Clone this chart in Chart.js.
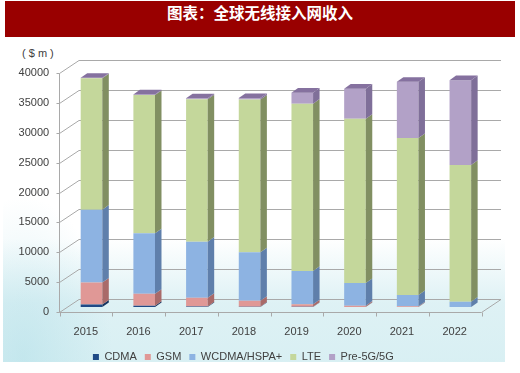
<!DOCTYPE html>
<html>
<head>
<meta charset="utf-8">
<script src="https://cdn.jsdelivr.net/npm/chart.js@4.4.1/dist/chart.umd.min.js"></script>
<style>
html, body { margin: 0; padding: 0; background: #fff; }
#wrap { position: relative; width: 520px; height: 373px; overflow: hidden; }
#bg {
    position: absolute; left: 3px; top: 37px; width: 502px; height: 325px;
    background:
        radial-gradient(ellipse 90px 160px at 20px 320px, rgba(170,220,230,0.45), rgba(255,255,255,0)),
        linear-gradient(to bottom, rgba(255,255,255,0) 62%, rgba(195,230,236,0.55) 82%, rgba(200,233,238,0.7) 100%);
}
#title {
    position: absolute; left: 5px; top: 1px; width: 510px; height: 36px;
    background: #990000; color: #fff; text-align: center; line-height: 36px;
    font: bold 15.5px "Noto Sans CJK SC", sans-serif;
}
#unit {
    position: absolute; left: 22px; top: 47px; color: #404040;
    font: 11px "Liberation Sans", Arial, sans-serif; white-space: pre;
}
canvas { position: absolute; left: 0; top: 0; }
</style>
</head>
<body>
<div id="wrap">
    <div id="bg"></div>
    <div id="title">图表：全球无线接入网收入</div>
    <div id="unit">( $ m )</div>
    <canvas id="chart" width="520" height="373"></canvas>
</div>
<script>
'use strict'

// data, $ m
const years = ['2015', '2016', '2017', '2018', '2019', '2020', '2021', '2022']
const cdma  = [400, 200, 100, 50, 30, 20, 10, 0]
const gsm   = [3700, 2000, 1450, 1000, 420, 200, 100, 0]
const wcdma = [12200, 10150, 9400, 8100, 5600, 3800, 1900, 900]
const lte   = [22000, 23150, 23850, 25600, 28000, 27500, 26300, 22900]
const pre5g = [100, 100, 150, 250, 1850, 5050, 9400, 14200]

const seriesNames = ['CDMA', 'GSM', 'WCDMA/HSPA+', 'LTE', 'Pre-5G/5G']
const yMax = 40000
const yStep = 5000

// colours: front, side, top
const frontColors = ['#1f4a86', '#e09896', '#8db3e2', '#c4d79b', '#b2a1c7']
const sideColors  = ['#16335e', '#a96a69', '#5f7fab', '#818f62', '#7f6f99']
const topColors   = ['#2a5aa0', '#c07d7c', '#7298c8', '#a3b57c', '#85719f']

// fake 3d: front plane, back wall and bar depth offsets
const FRONT_DX = -5.85, FRONT_DY = 5
const WALL_DX = 19.5, WALL_DY = -13.7
const SIDE_DX = 6.5, SIDE_DY = -4.6

Chart.defaults.font.family = '"Liberation Sans", Arial, sans-serif'
Chart.defaults.font.size = 11
Chart.defaults.color = '#404040'

function line(ctx, pts) {
    ctx.beginPath()
    ctx.moveTo(pts[0][0], pts[0][1])
    for (let i = 1; i < pts.length; i++) ctx.lineTo(pts[i][0], pts[i][1])
    ctx.stroke()
}

function poly(ctx, pts) {
    ctx.beginPath()
    ctx.moveTo(pts[0][0], pts[0][1])
    for (let i = 1; i < pts.length; i++) ctx.lineTo(pts[i][0], pts[i][1])
    ctx.closePath()
    ctx.fill()
}

const wallPlugin = {
    id: 'wall',
    beforeDatasetsDraw(chart) {
        const ctx = chart.ctx
        const a = chart.chartArea
        const ys = chart.scales.y
        const fl = Math.round(a.left + FRONT_DX) + 0.5
        const fr = Math.round(a.right + FRONT_DX) + 0.5
        ctx.save()
        ctx.strokeStyle = '#a9a9a9'
        ctx.lineWidth = 1
        ys.ticks.forEach(t => {
            const yf = Math.round(ys.getPixelForValue(t.value) + FRONT_DY) + 0.5
            const yb = Math.round(yf + WALL_DY) + 0.5
            line(ctx, [[fl - 3, yf], [fl, yf]])
            line(ctx, [[fl, yf], [fl + WALL_DX, yb], [fr + WALL_DX, yb]])
        })
        const y0 = Math.round(ys.getPixelForValue(0) + FRONT_DY) + 0.5
        const yTop = Math.round(ys.getPixelForValue(yMax) + FRONT_DY) + 0.5
        line(ctx, [[fl, yTop], [fl, y0]])
        line(ctx, [[fl, y0], [fr, y0], [fr + WALL_DX, Math.round(y0 + WALL_DY) + 0.5]])
        const n = chart.data.labels.length
        for (let i = 0; i <= n; i++) {
            const x = Math.round(fl + i * (fr - fl) / n) + 0.5
            line(ctx, [[x, y0], [x, y0 + 4]])
        }
        ctx.restore()
    },
    afterDatasetsDraw(chart) {
        const ctx = chart.ctx
        const n = chart.data.labels.length
        ctx.save()
        for (let i = 0; i < n; i++) {
            let top = null
            chart.data.datasets.forEach((ds, d) => {
                const el = chart.getDatasetMeta(d).data[i]
                const p = el.getProps(['x', 'y', 'base', 'width'], true)
                if (Math.abs(p.base - p.y) < 0.01) return
                const r = p.x + p.width / 2
                ctx.fillStyle = sideColors[d]
                poly(ctx, [[r, p.y], [r + SIDE_DX, p.y + SIDE_DY], [r + SIDE_DX, p.base + SIDE_DY], [r, p.base]])
                top = { p: p, d: d }
            })
            if (top) {
                const p = top.p
                const l = p.x - p.width / 2, r = p.x + p.width / 2
                ctx.fillStyle = topColors[top.d]
                poly(ctx, [[l, p.y], [l + SIDE_DX, p.y + SIDE_DY], [r + SIDE_DX, p.y + SIDE_DY], [r, p.y]])
            }
        }
        ctx.restore()
    }
}

const series = [cdma, gsm, wcdma, lte, pre5g]

new Chart(document.querySelector('#chart').getContext('2d'), {
    type: 'bar',
    data: {
        labels: years,
        datasets: series.map((values, i) => ({
            label: seriesNames[i],
            data: values,
            backgroundColor: frontColors[i],
            borderWidth: 0,
            categoryPercentage: 1,
            barPercentage: 0.41
        }))
    },
    options: {
        responsive: false,
        animation: false,
        layout: { padding: { left: 0, right: 33.3, top: 68.2, bottom: 0.5 } },
        plugins: {
            tooltip: { enabled: false },
            legend: {
                position: 'bottom',
                labels: { boxWidth: 6, boxHeight: 6, padding: 8, color: '#404040' }
            }
        },
        scales: {
            x: {
                stacked: true,
                grid: { display: false, drawTicks: false },
                border: { display: false },
                ticks: { padding: 18, labelOffset: -5.7, maxRotation: 0 },
                afterFit: s => { s.height = 36.5 }
            },
            y: {
                stacked: true,
                min: 0,
                max: yMax,
                grid: { display: false, drawTicks: false },
                border: { display: false },
                ticks: { stepSize: yStep, padding: 16, labelOffset: 5, callback: v => String(v) },
                afterFit: s => { s.width = 65.15 }
            }
        }
    },
    plugins: [wallPlugin]
})
</script>
</body>
</html>
